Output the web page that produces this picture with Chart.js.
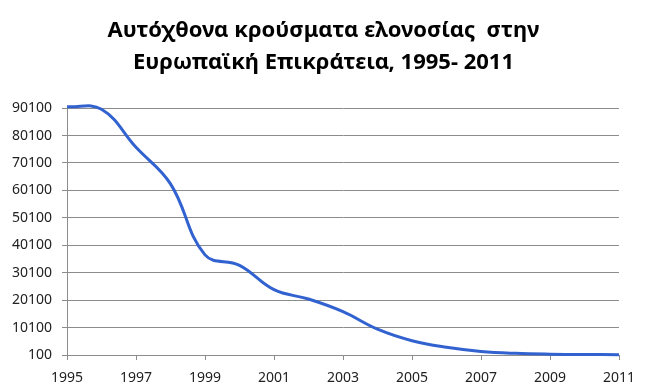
<!DOCTYPE html>
<html>
<head>
<meta charset="utf-8">
<script src="https://cdn.jsdelivr.net/npm/chart.js@4/dist/chart.umd.min.js"></script>
<style>
  html, body { margin: 0; padding: 0; background: #ffffff; }
  #wrap { width: 650px; height: 392px; position: relative; }
</style>
</head>
<body>
<div id="wrap"><canvas id="chart"></canvas></div>
<script>
  // Chart data
  const titleLines = ['Αυτόχθονα κρούσματα ελονοσίας  στην', 'Ευρωπαϊκή Επικράτεια, 1995- 2011'];
  const years = [1995, 1996, 1997, 1998, 1999, 2000, 2001, 2002, 2003, 2004, 2005, 2006, 2007, 2008, 2009, 2010, 2011];
  const cases = [90600, 89700, 75800, 62500, 36600, 32800, 23900, 20500, 15900, 9500, 5300, 2900, 1400, 700, 400, 300, 200];
  const yTickValues = [100, 10100, 20100, 30100, 40100, 50100, 60100, 70100, 80100, 90100];
  const xTickValues = [1995, 1997, 1999, 2001, 2003, 2005, 2007, 2009, 2011];

  const tickFont = { family: 'Noto Sans', size: 14 };
  const gridColor = '#8c8c8c';

  // the original title sits centred on the whole picture, not on the padded box
  const centreTitle = {
    id: 'centreTitle',
    afterLayout(chart) {
      const t = chart.titleBlock;
      if (t) { t.left += 14; t.right += 14; }
    }
  };

  new Chart(document.getElementById('chart'), {
    type: 'line',
    data: {
      datasets: [{
        data: years.map((yr, i) => ({ x: yr, y: cases[i] })),
        borderColor: '#3162cf',
        borderWidth: 3,
        pointRadius: 0,
        tension: 0.4,
        clip: false,
        fill: false
      }]
    },
    options: {
      responsive: true,
      maintainAspectRatio: false,
      animation: false,
      layout: { padding: { left: 0, right: 31, top: 0, bottom: 0 } },
      plugins: {
        legend: { display: false },
        tooltip: { enabled: false },
        title: {
          display: true,
          text: titleLines,
          color: '#000000',
          font: { family: 'Noto Sans', size: 22, weight: 'bold', lineHeight: 1.48 },
          padding: { top: 14, bottom: 29 }
        }
      },
      scales: {
        x: {
          type: 'linear',
          min: 1995,
          max: 2011,
          afterBuildTicks: (scale) => { scale.ticks = xTickValues.map(v => ({ value: v })); },
          afterFit: (scale) => { scale.height = 37; },
          grid: { drawOnChartArea: false, drawTicks: true, tickLength: 5, color: gridColor },
          border: { color: gridColor, width: 1 },
          ticks: {
            color: '#222222',
            font: tickFont,
            padding: 10,
            maxRotation: 0,
            autoSkip: false,
            callback: (v) => String(v)
          }
        },
        y: {
          min: 100,
          max: 90100,
          afterBuildTicks: (scale) => { scale.ticks = yTickValues.map(v => ({ value: v })); },
          afterFit: (scale) => { scale.width = 67; },
          grid: { color: gridColor, lineWidth: 1, drawTicks: true, tickLength: 5 },
          border: { color: gridColor, width: 1 },
          ticks: {
            color: '#222222',
            font: tickFont,
            padding: 10,
            autoSkip: false,
            callback: (v) => String(v)
          }
        }
      }
    },
    plugins: [centreTitle]
  });
</script>
</body>
</html>
